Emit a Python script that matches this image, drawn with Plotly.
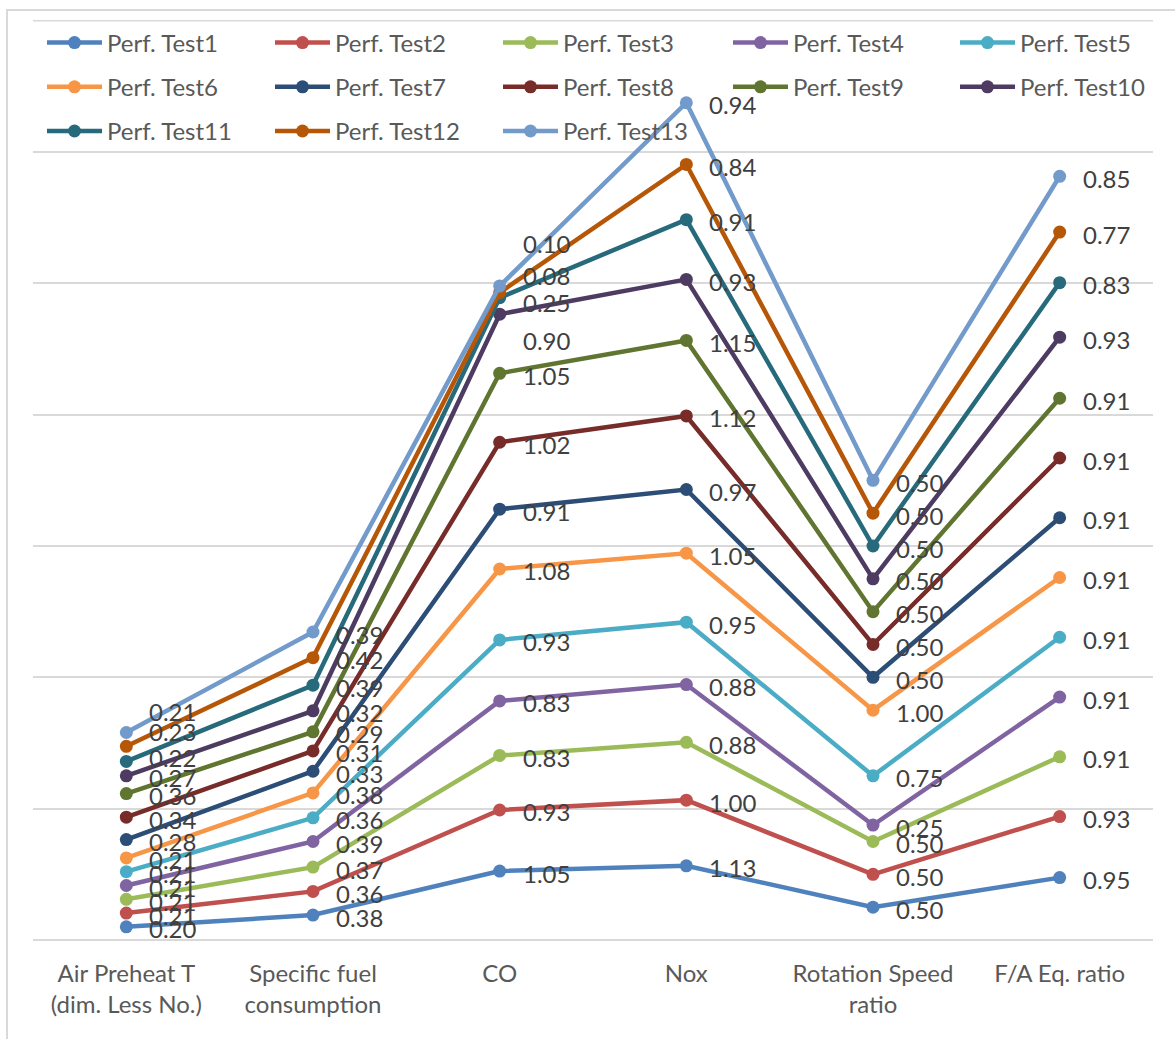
import numpy as np
import plotly.graph_objects as go

# Category axis labels
categories = [
    "Air Preheat T<br>(dim. Less No.)",
    "Specific fuel<br>consumption",
    "CO",
    "Nox",
    "Rotation Speed<br>ratio",
    "F/A Eq. ratio",
]

# Series values (stacked line chart: each series sits on top of the previous ones)
test1 = [0.20, 0.38, 1.05, 1.13, 0.50, 0.95]
test2 = [0.21, 0.36, 0.93, 1.00, 0.50, 0.93]
test3 = [0.21, 0.37, 0.83, 0.88, 0.50, 0.91]
test4 = [0.21, 0.39, 0.83, 0.88, 0.25, 0.91]
test5 = [0.21, 0.36, 0.93, 0.95, 0.75, 0.91]
test6 = [0.21, 0.38, 1.08, 1.05, 1.00, 0.91]
test7 = [0.28, 0.33, 0.91, 0.97, 0.50, 0.91]
test8 = [0.34, 0.31, 1.02, 1.12, 0.50, 0.91]
test9 = [0.36, 0.29, 1.05, 1.15, 0.50, 0.91]
test10 = [0.27, 0.32, 0.90, 0.93, 0.50, 0.93]
test11 = [0.22, 0.39, 0.25, 0.91, 0.50, 0.83]
test12 = [0.23, 0.42, 0.08, 0.84, 0.50, 0.77]
test13 = [0.21, 0.39, 0.10, 0.94, 0.50, 0.85]

series_names = [f"Perf. Test{i}" for i in range(1, 14)]
series_values = [test1, test2, test3, test4, test5, test6, test7,
                 test8, test9, test10, test11, test12, test13]

# Office palette
colors = ["#4F81BD", "#C0504D", "#9BBB59", "#8064A2", "#4BACC6", "#F79646",
          "#2C4D75", "#772C2A", "#5F7530", "#4D3B62", "#276A7C", "#B65708",
          "#729ACA"]

# Vertical nudges (px, up is positive) for crowded data labels: (category, series) -> shift
label_nudge = {
    (0, 12): 23, (0, 11): 17, (0, 10): 6,
    (2, 12): 44, (2, 11): 19, (2, 10): -3, (2, 9): -24,
}

FONT = "Lato, sans-serif"
Y_MAX = 14
x = np.arange(len(categories))
stacked = np.cumsum(np.array(series_values), axis=0)

fig = go.Figure()
annotations = []

# Legend laid out as five columns (one legend each), entries filling row by row
n_cols = 5
col_left_px = [42, 270, 498, 728, 955]
plot_left, plot_width, plot_top, plot_height = 33, 1120, 20, 920

for i, (name, vals) in enumerate(zip(series_names, series_values)):
    col = i % n_cols
    fig.add_trace(go.Scatter(
        x=x, y=stacked[i], name=name, mode="lines+markers",
        line=dict(color=colors[i], width=4.5),
        marker=dict(color=colors[i], size=13),
        legend="legend" if col == 0 else f"legend{col + 1}",
        legendgroup=name,
        hovertemplate=name + ": %{text}<extra></extra>",
        text=[f"{v:.2f}" for v in vals],
    ))
    for j, v in enumerate(vals):
        annotations.append(dict(
            x=x[j], y=stacked[i][j], xref="x", yref="y",
            text=f"{v:.2f}", showarrow=False,
            xanchor="left", yanchor="middle",
            xshift=21, yshift=-2 + label_nudge.get((j, i), 0),
            font=dict(family=FONT, size=24, color="#404040"),
        ))

legend_common = dict(
    orientation="v", xanchor="left", yanchor="middle",
    bgcolor="rgba(0,0,0,0)", borderwidth=0,
    font=dict(family=FONT, size=24, color="#595959"),
    itemwidth=55, traceorder="grouped", tracegroupgap=10,
    itemsizing="trace",
)

legends = {}
for col in range(n_cols):
    n_rows = len(range(col, len(series_names), n_cols))
    center_px = 43 + (n_rows - 1) * 44 / 2
    key = "legend" if col == 0 else f"legend{col + 1}"
    legends[key] = dict(
        legend_common,
        x=(col_left_px[col] - plot_left) / plot_width,
        y=(plot_top + plot_height - center_px) / plot_height,
    )

fig.update_layout(
    width=1175, height=1039,
    margin=dict(l=33, r=22, t=20, b=99),
    plot_bgcolor="white", paper_bgcolor="white",
    font=dict(family=FONT, size=24, color="#595959"),
    showlegend=True,
    xaxis=dict(
        range=[-0.5, len(categories) - 0.5],
        tickvals=x, ticktext=categories,
        showgrid=False, zeroline=False, showline=False, ticks="",
        tickfont=dict(family=FONT, size=24, color="#595959"),
        ticklabelstandoff=17,
    ),
    yaxis=dict(
        range=[0, Y_MAX + 0.01], dtick=2, showticklabels=False,
        showgrid=True, gridcolor="#d9d9d9", gridwidth=1.5,
        zeroline=True, zerolinecolor="#d9d9d9", zerolinewidth=1.5,
        showline=False, ticks="",
    ),
    annotations=annotations,
    shapes=[
        # chart-area border
        dict(type="rect", xref="paper", yref="paper",
             x0=-0.0232, x1=1.05, y0=-0.15, y1=1.0109,
             line=dict(color="#d9d9d9", width=2), fillcolor="rgba(0,0,0,0)",
             layer="below"),
        # top gridline of the value axis
        dict(type="line", xref="paper", yref="y",
             x0=0, x1=1, y0=Y_MAX, y1=Y_MAX,
             line=dict(color="#d9d9d9", width=1.5), layer="below"),
    ],
    **legends,
)

fig.write_html("out.html")
